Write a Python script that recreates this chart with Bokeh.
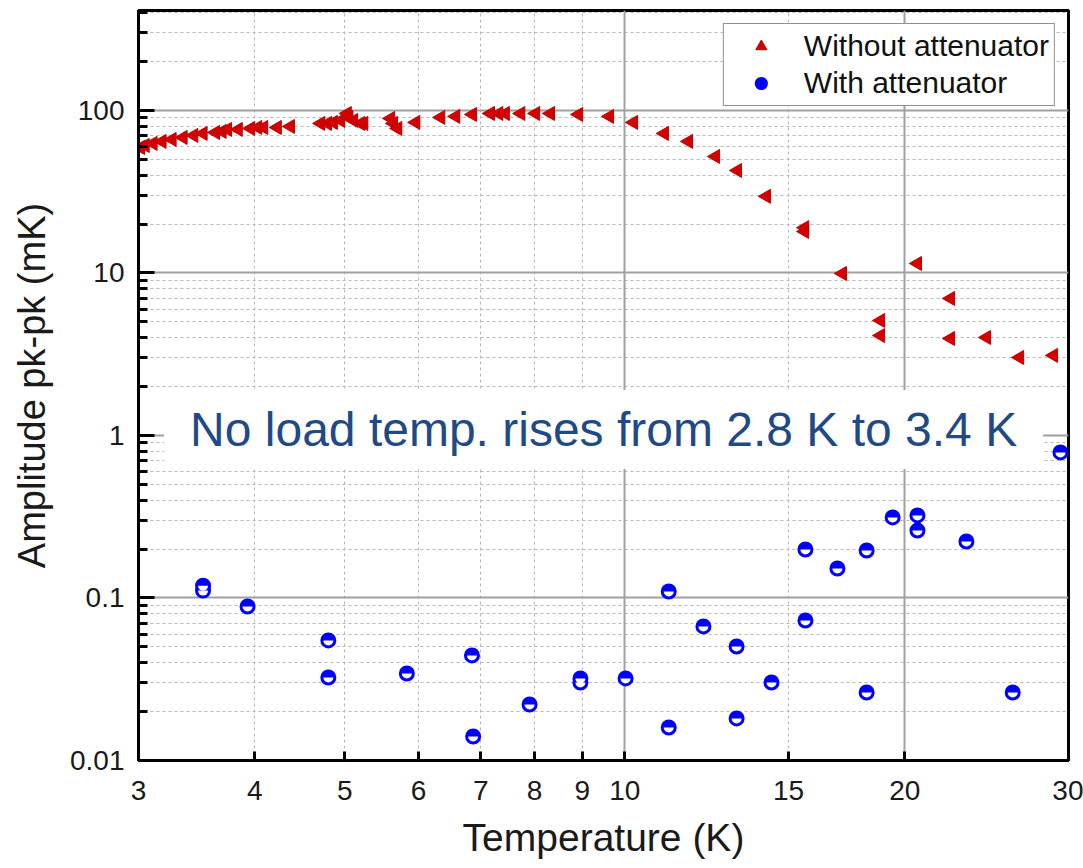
import numpy as np
from bokeh.plotting import figure
from bokeh.models import FixedTicker, Grid, Legend, LegendItem, Label
from bokeh.embed import file_html
from bokeh.resources import INLINE

# ---- data ----
temp_without = [3.015, 3.05, 3.11, 3.18, 3.26, 3.35, 3.44, 3.52, 3.63, 3.69, 3.74, 3.84, 3.96,
                4.03, 4.09, 4.23, 4.37, 4.71, 4.79, 4.86, 4.95, 5.03, 5.05, 5.11, 5.20, 5.24,
                5.60, 5.64, 5.70, 5.96, 6.34, 6.58, 6.86, 7.17, 7.32, 7.44, 7.73, 8.02, 8.32,
                8.92, 9.63, 10.22, 11.03, 11.71, 12.52, 13.22, 14.20, 15.61, 15.61, 17.14,
                18.84, 18.84, 20.64, 22.40, 22.40, 24.49, 26.58, 28.91]
amp_without = [59.2, 60.9, 62.7, 64.5, 66.3, 68.2, 70.2, 72.2, 73.2, 74.3, 76.4, 76.4, 77.5,
               78.6, 78.6, 78.6, 79.7, 83.2, 83.2, 84.4, 86.8, 95.8, 90.6, 86.8, 83.2, 83.2,
               89.3, 83.2, 77.5, 84.4, 90.6, 91.9, 94.5, 95.8, 95.8, 95.8, 95.8, 95.8, 95.8,
               94.5, 91.9, 84.4, 72.2, 64.5, 52.1, 42.7, 29.6, 19.0, 18.0, 9.93,
               5.10, 4.12, 11.44, 6.97, 3.95, 4.01, 3.02, 3.11]

temp_with = [3.52, 3.52, 3.93, 4.80, 4.80, 5.83, 6.85, 6.87, 7.90, 8.96, 8.96, 10.02, 11.15,
             11.15, 12.15, 13.19, 13.19, 14.38, 15.64, 15.64, 16.93, 18.20, 18.20, 19.41,
             20.64, 20.64, 23.30, 26.13, 29.41]
amp_with = [0.119, 0.111, 0.0886, 0.0548, 0.0324, 0.0343, 0.0443, 0.01405, 0.0221, 0.0320,
            0.0302, 0.0320, 0.1096, 0.01596, 0.0668, 0.0503, 0.01814, 0.0302, 0.1988, 0.0727,
            0.1519, 0.196, 0.0262, 0.313, 0.322, 0.260, 0.2227, 0.0262, 0.786]

x_ticks = [3, 4, 5, 6, 7, 8, 9, 10, 15, 20, 30]
x_major_grid = [10, 20]
x_minor_grid = [4, 5, 6, 7, 8, 9, 15]
y_ticks = [0.01, 0.1, 1, 10, 100]
y_minor = [0.02, 0.03, 0.04, 0.05, 0.06, 0.07, 0.08, 0.09,
           0.2, 0.3, 0.4, 0.5, 0.6, 0.7, 0.8, 0.9,
           2, 3, 4, 5, 6, 7, 8, 9,
           20, 30, 40, 50, 60, 70, 80, 90,
           200, 300, 400]

FONT = "Liberation Sans"

p = figure(x_axis_type="log", y_axis_type="log", x_range=(3, 30), y_range=(0.01, 412),
           frame_width=930, frame_height=750,
           min_border_left=138, min_border_right=15, min_border_top=10, min_border_bottom=108,
           output_backend="svg", toolbar_location=None,
           background_fill_color="white", border_fill_color="white")

p.xgrid.visible = False
p.ygrid.visible = False

# grids
p.add_layout(Grid(dimension=1, ticker=FixedTicker(ticks=y_minor), grid_line_color="#b8b8b8",
                  grid_line_dash="3 3", grid_line_width=1))
p.add_layout(Grid(dimension=0, ticker=FixedTicker(ticks=x_minor_grid), grid_line_color="#b8b8b8",
                  grid_line_dash="3 3", grid_line_width=1))
p.add_layout(Grid(dimension=1, ticker=FixedTicker(ticks=y_ticks), grid_line_color="#a0a0a0",
                  grid_line_width=2))
p.add_layout(Grid(dimension=0, ticker=FixedTicker(ticks=x_major_grid), grid_line_color="#a0a0a0",
                  grid_line_width=2))

# axes
xa = p.xaxis[0]
ya = p.yaxis[0]
xa.ticker = FixedTicker(ticks=x_ticks, minor_ticks=[])
xa.major_label_overrides = {t: str(t) for t in x_ticks}
ya.ticker = FixedTicker(ticks=y_ticks, minor_ticks=y_minor)
ya.major_label_overrides = {0.01: "0.01", 0.1: "0.1", 1: "1", 10: "10", 100: "100"}

for ax in (xa, ya):
    ax.axis_line_width = 3
    ax.axis_line_color = "black"
    ax.major_tick_line_width = 3
    ax.minor_tick_line_width = 3
    ax.major_tick_line_color = "black"
    ax.minor_tick_line_color = "black"
    ax.major_tick_out = 0
    ax.minor_tick_out = 0
    ax.major_label_text_font = FONT
    ax.major_label_text_font_size = "28px"
    ax.major_label_text_color = "#1a1a1a"
    ax.axis_label_text_font = FONT
    ax.axis_label_text_font_style = "normal"
    ax.axis_label_text_color = "#1a1a1a"

xa.major_tick_in = 9
xa.minor_tick_in = 0
xa.major_label_standoff = 20
xa.axis_label = "Temperature (K)"
xa.axis_label_text_font_size = "39px"
xa.axis_label_standoff = 13

ya.major_tick_in = 16
ya.minor_tick_in = 9
ya.major_label_standoff = 14
ya.axis_label = "Amplitude pk-pk (mK)"
ya.axis_label_text_font_size = "38px"
ya.axis_label_standoff = 14

p.outline_line_color = "black"
p.outline_line_width = 3
p.outline_line_alpha = 1.0

# data glyphs
r_red = p.scatter(temp_without, amp_without, marker="triangle", size=14, angle=np.pi / 2,
                  fill_color="#d40000", line_color="#c00000", line_width=1)
r_blue = p.scatter(temp_with, amp_with, marker="circle", size=14, fill_color="#0000ff",
                   line_color="#0000ff", line_width=2)
p.wedge(temp_with, amp_with, radius=5, radius_units="screen", start_angle=np.pi,
        end_angle=2 * np.pi, fill_color="white", line_color=None)

legend = Legend(items=[LegendItem(label="Without attenuator", renderers=[r_red]),
                       LegendItem(label="With attenuator", renderers=[r_blue])],
                location="top_right", margin=13, padding=5, spacing=3,
                glyph_width=64, glyph_height=28, label_standoff=11,
                label_text_font=FONT, label_text_font_size="30px", label_text_color="#111111",
                border_line_color="#222222", border_line_width=1.5,
                background_fill_color="white", background_fill_alpha=1.0)
p.add_layout(legend)

note = Label(x=9.49, y=1.089, text="No load temp. rises from 2.8 K to 3.4 K",
             text_font=FONT, text_font_size="48px", text_color="#1f4a86",
             text_align="center", text_baseline="middle",
             background_fill_color="white", background_fill_alpha=1.0,
             padding=dict(left=26, right=26, top=13, bottom=13))
p.add_layout(note)

open("out.html", "w").write(file_html(p, INLINE))
